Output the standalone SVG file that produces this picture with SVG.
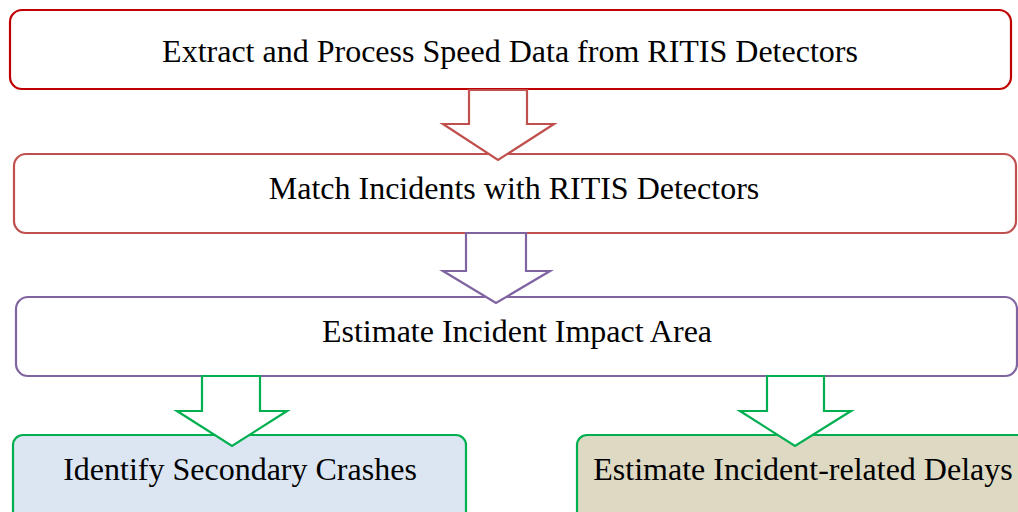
<svg xmlns="http://www.w3.org/2000/svg" width="1018" height="512" viewBox="0 0 1018 512">
<style>
.box{stroke-width:2.2}
.arr{fill:#FFFFFF;stroke-width:2.2;stroke-linejoin:miter}
.t{font-family:'Liberation Serif','Times New Roman','DejaVu Serif',serif;font-size:32px;fill:#000000;text-anchor:middle}
</style>
<rect width="1018" height="512" fill="#FFFFFF"/>
<g id="n1">
<rect class="box" x="10" y="10" width="1001" height="79" rx="12" fill="#FFFFFF" stroke="#C00000"/>
<text class="t" x="510" y="62">Extract and Process Speed Data from RITIS Detectors</text>
</g>
<g id="n2">
<rect class="box" x="14" y="154" width="1002" height="79" rx="12" fill="#FFFFFF" stroke="#C0504D"/>
<text class="t" x="514" y="199">Match Incidents with RITIS Detectors</text>
</g>
<g id="n3">
<rect class="box" x="16" y="297" width="1001" height="79" rx="12" fill="#FFFFFF" stroke="#8064A2"/>
<text class="t" x="517" y="342">Estimate Incident Impact Area</text>
</g>
<g id="n4">
<rect class="box" x="13" y="435" width="453" height="100" rx="10" fill="#DCE6F2" stroke="#00B050"/>
<text class="t" x="240" y="480">Identify Secondary Crashes</text>
</g>
<g id="n5">
<rect class="box" x="577" y="435" width="460" height="100" rx="10" fill="#DDD9C3" stroke="#00B050"/>
<text class="t" x="803" y="480">Estimate Incident-related Delays</text>
</g>
<g id="connectors">
<path class="arr" stroke="#C0504D" d="M469,90 L527,90 L527,124 L554,124 L498,160 L443,124 L469,124 Z"/>
<path class="arr" stroke="#8064A2" d="M466,233 L526,233 L526,271 L550,271 L496,303 L443,271 L466,271 Z"/>
<path class="arr" stroke="#00B050" d="M202,376 L260,376 L260,411 L287,411 L232,446 L177,411 L202,411 Z"/>
<path class="arr" stroke="#00B050" d="M767,376 L824,376 L824,411 L851,411 L795,446 L740,411 L767,411 Z"/>
</g>
</svg>
